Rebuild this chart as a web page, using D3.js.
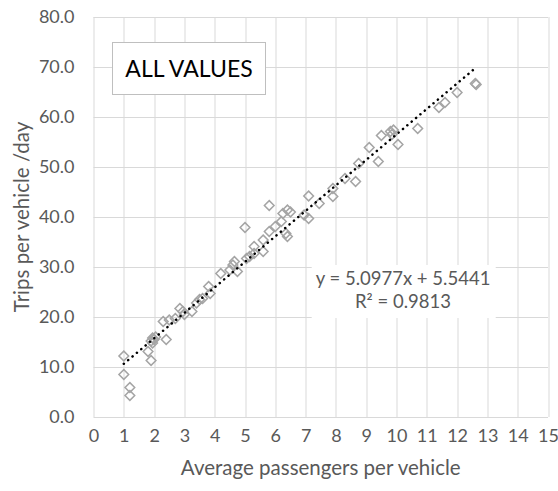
<!DOCTYPE html>
<html>
<head>
<meta charset="utf-8">
<script src="https://cdn.jsdelivr.net/npm/d3@7"></script>
<style>
  body { margin: 0; background: #fff; }
  text { font-family: Lato, "Open Sans", sans-serif; }
</style>
</head>
<body>
<script>
// average passengers per vehicle
var passengers = [1.0, 1.0, 1.2, 1.2, 1.8, 1.9, 1.9, 1.95, 2.0, 2.05, 1.95, 2.4, 2.3,
    2.5, 2.7, 2.85, 2.95, 3.25, 3.0, 3.4, 3.6, 3.8, 3.85, 3.5,
    4.2, 4.5, 4.6, 4.75, 4.65, 5.05, 5.15, 5.3, 5.3, 5.6, 5.6, 5.8, 6.0, 6.2,
    6.35, 6.4, 6.25, 6.4, 6.5, 5.0, 5.8, 6.95, 7.1, 7.1, 7.45, 7.9, 7.9,
    8.3, 8.65, 8.75, 9.1, 9.4, 9.5, 9.8, 9.9, 9.85, 10.05, 10.7,
    11.4, 11.6, 12.0, 12.6, 12.63];
// trips per vehicle per day
var trips = [12.2, 8.5, 5.9, 4.3, 13.1, 11.3, 15.2, 15.8, 15.5, 16.0, 14.8, 15.5, 19.1,
    19.4, 19.7, 21.7, 21.1, 21.1, 20.5, 22.8, 23.7, 26.1, 24.7, 23.5,
    28.7, 29.4, 30.4, 29.1, 31.1, 31.7, 32.1, 32.7, 34.1, 33.1, 35.4, 37.1, 38.1, 39.1,
    36.7, 36.1, 40.7, 41.4, 41.0, 37.9, 42.3, 40.4, 39.7, 44.2, 42.7, 44.1, 45.7,
    47.7, 47.1, 50.7, 53.9, 51.1, 56.3, 57.1, 57.4, 56.5, 54.5, 57.7,
    61.9, 62.9, 64.9, 66.7, 66.5];

var xTicks = d3.range(0, 16, 1);
var yTicks = d3.range(0, 81, 10);

var slope = 5.0977, intercept = 5.5441;
var trendX = [1.0, 12.63];

var W = 558, H = 491;
var margin = { top: 17, right: 10, bottom: 74, left: 93.5 };
var w = W - margin.left - margin.right,
    h = H - margin.top - margin.bottom;

var svg = d3.select("body").append("svg")
    .attr("width", W)
    .attr("height", H);

var g = svg.append("g")
    .attr("transform", "translate(" + margin.left + "," + margin.top + ")");

var x = d3.scaleLinear().domain([0, 15]).range([0, w]);
var y = d3.scaleLinear().domain([0, 80]).range([h, 0]);

// gridlines
g.append("g").selectAll("line").data(xTicks).enter().append("line")
    .attr("x1", function (d) { return Math.round(x(d)) + 0.5; })
    .attr("x2", function (d) { return Math.round(x(d)) + 0.5; })
    .attr("y1", 0).attr("y2", h)
    .attr("stroke", "#d9d9d9").attr("stroke-width", 1);

g.append("g").selectAll("line").data(yTicks).enter().append("line")
    .attr("y1", function (d) { return Math.round(y(d)) + 0.5; })
    .attr("y2", function (d) { return Math.round(y(d)) + 0.5; })
    .attr("x1", 0).attr("x2", w)
    .attr("stroke", "#d9d9d9").attr("stroke-width", 1);

// axes (labels only)
var xAxis = d3.axisBottom(x).tickValues(xTicks).tickSize(0).tickPadding(12)
    .tickFormat(d3.format("d"));
var yAxis = d3.axisLeft(y).tickValues(yTicks).tickSize(0).tickPadding(19)
    .tickFormat(d3.format(".1f"));

g.append("g").attr("transform", "translate(0," + h + ")").call(xAxis)
    .call(function (s) { s.select(".domain").remove(); })
    .selectAll("text").attr("fill", "#595959").style("font-size", "18px");
g.append("g").call(yAxis)
    .call(function (s) { s.select(".domain").remove(); })
    .selectAll("text").attr("fill", "#595959").style("font-size", "18px");

// points
var pts = passengers.map(function (p, i) { return [p, trips[i]]; });
var dia = d3.symbol().type(d3.symbolDiamond2).size(60);
g.append("g").selectAll("path").data(pts).enter().append("path")
    .attr("d", dia)
    .attr("transform", function (d) { return "translate(" + x(d[0]) + "," + y(d[1]) + ")"; })
    .attr("fill", "none")
    .attr("stroke", "#a5a5a5")
    .attr("stroke-width", 1.5);

// trendline
var line = d3.line()
    .x(function (d) { return x(d); })
    .y(function (d) { return y(slope * d + intercept); });
g.append("path")
    .attr("d", line(trendX))
    .attr("fill", "none")
    .attr("stroke", "#000")
    .attr("stroke-width", 2.5)
    .attr("stroke-linecap", "round")
    .attr("stroke-dasharray", "0.1 5.6");

// equation box
g.append("rect")
    .attr("x", 311.7 - margin.left).attr("y", 265 - margin.top)
    .attr("width", 184).attr("height", 53)
    .attr("fill", "#fff");
g.append("text")
    .attr("x", 403 - margin.left).attr("y", 285 - margin.top)
    .attr("text-anchor", "middle").attr("fill", "#595959")
    .style("font-size", "18.5px")
    .text("y = 5.0977x + 5.5441");
g.append("text")
    .attr("x", 403 - margin.left).attr("y", 308 - margin.top)
    .attr("text-anchor", "middle").attr("fill", "#595959")
    .style("font-size", "18.5px")
    .text("R² = 0.9813");

// ALL VALUES box
g.append("rect")
    .attr("x", 112.5 - margin.left).attr("y", 42.5 - margin.top)
    .attr("width", 153).attr("height", 52)
    .attr("fill", "#fff").attr("stroke", "#bfbfbf").attr("stroke-width", 1);
g.append("text")
    .attr("x", 189 - margin.left).attr("y", 76.5 - margin.top)
    .attr("text-anchor", "middle").attr("fill", "#000")
    .style("font-size", "23px")
    .text("ALL VALUES");

// axis titles
svg.append("text")
    .attr("transform", "translate(29," + (margin.top + h / 2) + ") rotate(-90)")
    .attr("text-anchor", "middle").attr("fill", "#595959")
    .style("font-size", "20.5px")
    .text("Trips per vehicle /day");
svg.append("text")
    .attr("x", margin.left + w / 2).attr("y", 475)
    .attr("text-anchor", "middle").attr("fill", "#595959")
    .style("font-size", "20.5px")
    .text("Average passengers per vehicle");
</script>
</body>
</html>
